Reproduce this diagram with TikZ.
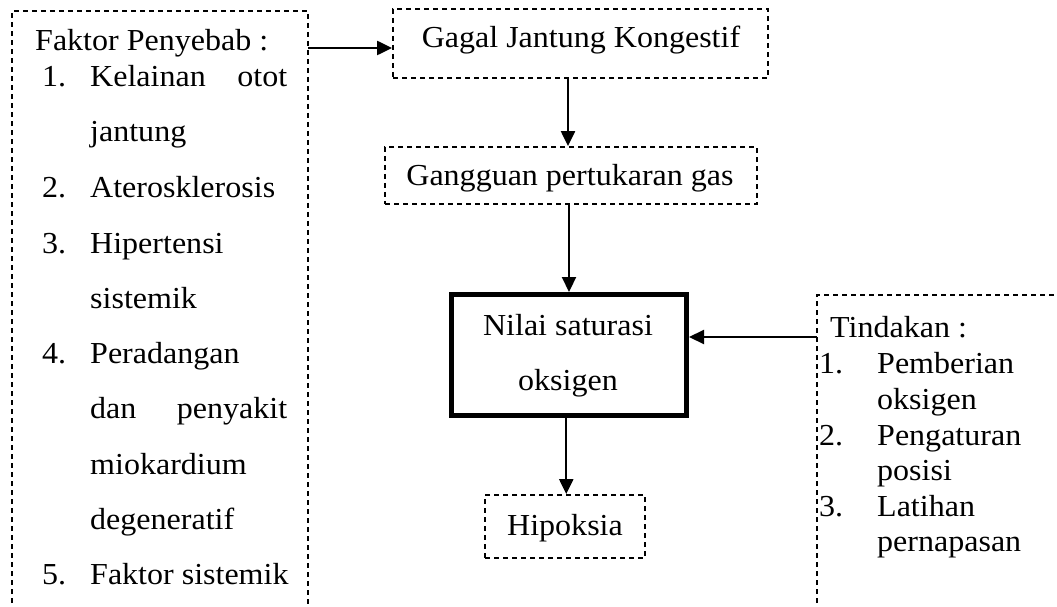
\documentclass[tikz,border=0pt]{standalone}
\usepackage{fontspec}
\setmainfont{Liberation Serif}[FakeStretch=1.05]
\usetikzlibrary{arrows.meta}
\tikzset{
  dbox/.style={draw, dash pattern=on 5pt off 4pt, line width=1.8pt, rectangle, inner sep=0pt},
  thickbox/.style={draw, line width=5pt, rectangle, inner sep=0pt},
  dline/.style={dash pattern=on 5pt off 4pt, line width=1.8pt},
  arr/.style={-{Triangle[length=15pt,width=14pt]}, line width=2.2pt},
  txt/.style={anchor=base west, inner sep=0pt, font=\fontsize{30.5}{36}\selectfont},
  ctxt/.style={anchor=base, inner sep=0pt, font=\fontsize{30.5}{36}\selectfont}
}
\begin{document}
\begin{tikzpicture}[x=1pt,y=-1pt]
\useasboundingbox (0,0) rectangle (1057,607);
% left open box
\coordinate (lbBL) at (12,612);
\coordinate (lbTL) at (12,11);
\coordinate (lbTR) at (308,11);
\coordinate (lbBR) at (308,612);
\draw[dline] (lbBL) -- (lbTL) -- (lbTR) -- (lbBR);
\coordinate (lbOut) at (308,48);
% right open box
\coordinate (rbBL) at (817,612);
\coordinate (rbTL) at (817,295);
\coordinate (rbTR) at (1062,295);
\draw[dline] (rbBL) -- (rbTL) -- (rbTR);
\coordinate (rbOut) at (817,337);
% boxes
\node[dbox, minimum width=375pt, minimum height=69pt] (gagal) at (580.5,43.5) {};
\node[dbox, minimum width=372pt, minimum height=57pt] (gangguan) at (571,175.5) {};
\node[thickbox, minimum width=235.5pt, minimum height=121pt] (nilai) at (568.75,355) {};
\node[dbox, minimum width=160pt, minimum height=63pt] (hipoksia) at (565,526.5) {};
% box texts
\node[ctxt] (tgagal) at (581,48) {Gagal Jantung Kongestif};
\node[ctxt] (tgangguan) at (570,185) {Gangguan pertukaran gas};
\node[ctxt] (tnilai1) at (568,335) {Nilai saturasi};
\node[ctxt] (tnilai2) at (568,390) {oksigen};
\node[ctxt] (thipoksia) at (565,535) {Hipoksia};
% left box text
\node[txt] (fp) at (35,51) {Faktor Penyebab :};
\node[txt] (n1) at (42,87) {1.};
\node[txt] (l1) at (90,87) {\hbox to 197pt{Kelainan\hfill otot}};
\node[txt] (l1b) at (90,142) {jantung};
\node[txt] (n2) at (42,197.5) {2.};
\node[txt] (l2) at (90,197.5) {Aterosklerosis};
\node[txt] (n3) at (42,253) {3.};
\node[txt] (l3) at (90,253) {Hipertensi};
\node[txt] (l3b) at (90,308) {sistemik};
\node[txt] (n4) at (42,363) {4.};
\node[txt] (l4) at (90,363) {Peradangan};
\node[txt] (l4b) at (90,418) {\hbox to 197pt{dan\hfill penyakit}};
\node[txt] (l4c) at (90,474) {miokardium};
\node[txt] (l4d) at (90,529) {degeneratif};
\node[txt] (n5) at (42,584) {5.};
\node[txt] (l5) at (90,584) {Faktor sistemik};
% right box text
\node[txt] (tind) at (830,337) {Tindakan :};
\node[txt] (r1) at (819,373) {1.};
\node[txt] (r1a) at (877,373) {Pemberian};
\node[txt] (r1b) at (877,409) {oksigen};
\node[txt] (r2) at (819,445) {2.};
\node[txt] (r2a) at (877,445) {Pengaturan};
\node[txt] (r2b) at (877,480) {posisi};
\node[txt] (r3) at (819,516) {3.};
\node[txt] (r3a) at (877,516) {Latihan};
\node[txt] (r3b) at (877,551) {pernapasan};
% connectors
\draw[arr] (lbOut) -- (lbOut -| gagal.west);
\draw[arr] ([xshift=-12.5pt]gagal.south) -- ([xshift=-12.5pt]gagal.south |- gangguan.north);
\draw[arr] ([xshift=-2pt]gangguan.south) -- ([xshift=-2pt]gangguan.south |- nilai.north);
\draw[arr] (rbOut) -- (rbOut -| nilai.east);
\draw[arr] ([xshift=-2.5pt]nilai.south) -- ([xshift=-2.5pt]nilai.south |- hipoksia.north);
\end{tikzpicture}
\end{document}
